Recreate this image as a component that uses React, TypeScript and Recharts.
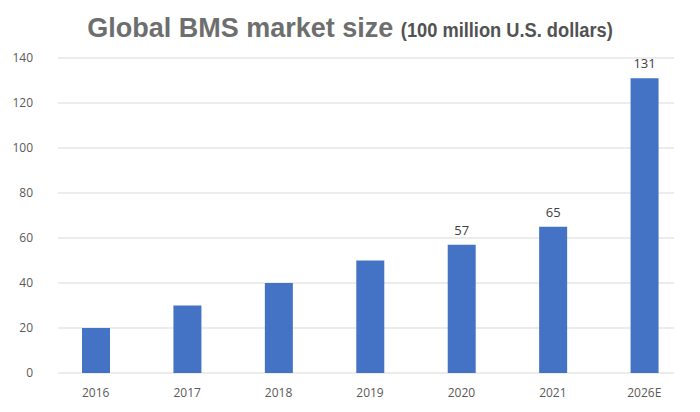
import { Bar, BarChart, CartesianGrid, LabelList, XAxis, YAxis } from 'recharts'

const years = ['2016', '2017', '2018', '2019', '2020', '2021', '2026E']
const marketSize = [20, 30, 40, 50, 57, 65, 131]
const shownLabels = [null, null, null, null, '57', '65', '131']
const yTicks = [0, 20, 40, 60, 80, 100, 120, 140]

const data = years.map((year, i) => ({ year, size: marketSize[i], label: shownLabels[i] }))

const tickFont = { fontFamily: '"Open Sans", sans-serif', fontSize: 12, fill: '#595959' }

export default function App() {
  return (
    <div style={{ position: 'absolute', top: 0, left: 0, width: 700, height: 412, background: '#fff' }}>
      <svg width={700} height={50} style={{ position: 'absolute', top: 0, left: 0 }}>
        <text x={350} y={37} textAnchor="middle" fontFamily='"Liberation Sans", Arial, sans-serif' fontWeight="bold">
          <tspan fontSize={27} fill="#6e6e6e">Global BMS market size </tspan>
          <tspan fontSize={19.5} fill="#525252" textLength={212} lengthAdjust="spacingAndGlyphs">
            (100 million U.S. dollars)
          </tspan>
        </text>
      </svg>
      <BarChart width={700} height={412} data={data} margin={{ top: 58, right: 10, bottom: 0, left: 0 }}>
        <CartesianGrid vertical={false} stroke="#d9d9d9" x={58} width={616} />
        <XAxis
          dataKey="year"
          height={39}
          axisLine={false}
          tickLine={false}
          tickMargin={9}
          tick={tickFont}
        />
        <YAxis
          width={50}
          domain={[0, 140]}
          ticks={yTicks}
          axisLine={false}
          tickLine={false}
          tickMargin={11}
          tick={tickFont}
        />
        <Bar dataKey="size" fill="#4472c4" barSize={28} isAnimationActive={false}>
          <LabelList
            dataKey="label"
            position="top"
            offset={10}
            fill="#404040"
            fontSize={13}
            fontFamily='"Open Sans", sans-serif'
          />
        </Bar>
      </BarChart>
    </div>
  )
}
